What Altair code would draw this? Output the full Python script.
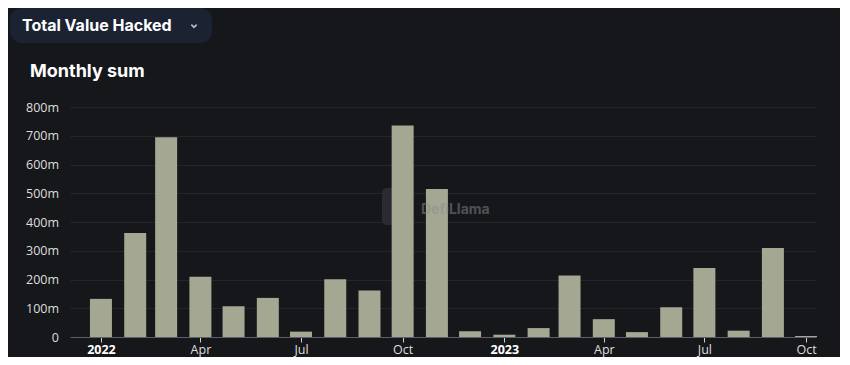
import altair as alt
import pandas as pd

months = [
    "2022-01-01", "2022-02-01", "2022-03-01", "2022-04-01", "2022-05-01", "2022-06-01",
    "2022-07-01", "2022-08-01", "2022-09-01", "2022-10-01", "2022-11-01", "2022-12-01",
    "2023-01-01", "2023-02-01", "2023-03-01", "2023-04-01", "2023-05-01", "2023-06-01",
    "2023-07-01", "2023-08-01", "2023-09-01", "2023-10-01",
]
hacked_m = [
    132.6, 361.6, 695, 210, 107, 136, 18.6, 201, 162, 736, 515, 20,
    8, 31, 214, 62, 17, 103.5, 240, 22, 310, 3.5,
]
y_ticks = [0, 100, 200, 300, 400, 500, 600, 700, 800]
x_tick_months = [(2022, 1), (2022, 4), (2022, 7), (2022, 10),
                 (2023, 1), (2023, 4), (2023, 7), (2023, 10)]

df = pd.DataFrame({"date": [m + "T00:00:00" for m in months], "value": hacked_m})
one = pd.DataFrame({"t": [""]})

BG = "#16171b"
BAR = "#a4a892"

x_scale = alt.Scale(domain=[alt.DateTime(year=2021, month=12, date=4),
                            alt.DateTime(year=2023, month=10, date=10)],
                    nice=False, padding=0)
y_scale = alt.Scale(domain=[0, 800], nice=False)

x_axis = alt.Axis(
    values=[alt.DateTime(year=y, month=m, date=1) for y, m in x_tick_months],
    labelExpr="month(datum.value)==0 ? timeFormat(datum.value,'%Y') : timeFormat(datum.value,'%b')",
    labelFontWeight={"condition": {"test": "month(datum.value)==0", "value": "bold"}, "value": "normal"},
    labelColor={"condition": {"test": "month(datum.value)==0", "value": "#ffffff"}, "value": "#dedede"},
    labelFont="Open Sans", labelFontSize=12.5, labelPadding=1.5,
    tickSize=5, tickColor="#d0d0d0", domainColor="#5e5f66",
    grid=False, title=None, labelFlush=False,
)
y_axis = alt.Axis(
    values=y_ticks,
    labelExpr="datum.value == 0 ? '0' : datum.value + 'm'",
    labelFont="Open Sans", labelFontSize=12.5, labelColor="#dedede", labelPadding=11.5,
    ticks=False, tickSize=0, domain=False, grid=True, gridColor="#25262c", title=None,
)

logo = alt.Chart(one).mark_rect(color="#2a2b31", cornerRadius=5).encode(
    x=alt.value(312), x2=alt.value(342), y=alt.value(81), y2=alt.value(118))

bars = alt.Chart(df).mark_bar(color=BAR, size=22).encode(
    x=alt.X("date:T", scale=x_scale, axis=x_axis),
    y=alt.Y("value:Q", scale=y_scale, axis=y_axis),
)

watermark = alt.Chart(one).mark_text(
    text="DefiLlama", align="left", baseline="middle", font="Inter",
    fontSize=14, fontWeight="bold", color="#8a8b90", opacity=0.5,
).encode(x=alt.value(351), y=alt.value(103))

button = alt.Chart(one).mark_rect(color="#1b2333", cornerRadius=12).encode(
    x=alt.value(-60), x2=alt.value(142), y=alt.value(-99), y2=alt.value(-64))

button_text = alt.Chart(one).mark_text(
    text="Total Value Hacked", align="left", baseline="middle", font="Inter",
    fontSize=16, fontWeight="bold", color="#ffffff",
).encode(x=alt.value(-48), y=alt.value(-81))

chevron = alt.Chart(one).mark_point(
    shape="M-1,-0.5L0,0.5L1,-0.5", filled=False, color="#ffffff", strokeWidth=1.6, size=28,
).encode(x=alt.value(124), y=alt.value(-81))

title = alt.Chart(one).mark_text(
    text="Monthly sum", align="left", baseline="middle", font="Inter",
    fontSize=18, fontWeight="bold", color="#ffffff",
).encode(x=alt.value(-40), y=alt.value(-35))

chart = alt.layer(logo, bars, watermark, button, button_text, chevron, title).properties(
    width=746, height=230,
    autosize=alt.AutoSizeParams(type="none"),
    padding={"left": 62, "top": 99, "right": 24, "bottom": 20},
).configure(background=BG).configure_view(stroke=None)

chart.save("out.html", embed_options={"renderer": "svg", "actions": False})
